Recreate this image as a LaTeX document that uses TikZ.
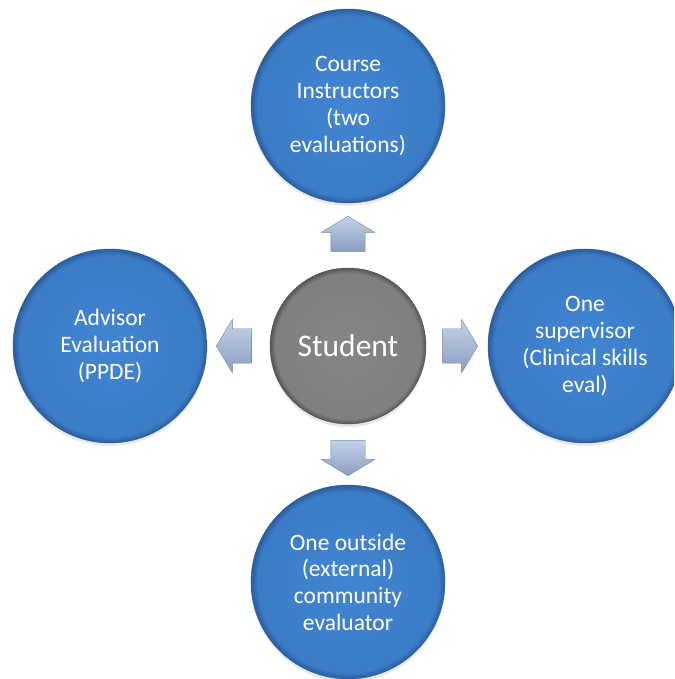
\documentclass[tikz,border=0pt]{standalone}
\usepackage{fontspec}
\setmainfont{Carlito}
\usetikzlibrary{shapes.arrows,calc,shadows}
\definecolor{evalblue}{RGB}{60,125,200}
\definecolor{evallight}{RGB}{66,133,210}
\definecolor{evalrim}{RGB}{42,92,155}
\definecolor{stgray}{RGB}{128,128,128}
\definecolor{stlight}{RGB}{134,134,134}
\definecolor{strim}{RGB}{85,85,85}
\definecolor{arrlight}{RGB}{196,210,232}
\definecolor{arrdark}{RGB}{138,158,192}
\definecolor{arrline}{RGB}{112,130,162}
\pgfdeclareradialshading{evalball}{\pgfpoint{0bp}{0bp}}{color(0bp)=(evallight); color(20bp)=(evalblue); color(23.3bp)=(evalblue); color(25bp)=(evalrim); color(50bp)=(evalrim)}
\pgfdeclareradialshading{stball}{\pgfpoint{0bp}{0bp}}{color(0bp)=(stlight); color(20bp)=(stgray); color(23.3bp)=(stgray); color(25bp)=(strim); color(50bp)=(strim)}
\begin{document}
\begin{tikzpicture}[x=1pt,y=1pt]
	\tikzstyle{ev} = [circle, minimum size=194pt, inner sep=0, shading=evalball, draw=evalrim, thin, text=white, align=center, font=\fontsize{23.5}{26.7}\selectfont, drop shadow={opacity=0.18,shadow xshift=0pt,shadow yshift=-3pt}]
	\tikzstyle{blk} = [single arrow, minimum height=35pt, inner xsep=0, inner ysep=17pt, single arrow head extend=9.5pt, single arrow tip angle=118, top color=arrlight, bottom color=arrdark, draw=arrline, thin]
	\clip (-348,-333) rectangle (326,346);
	\fill [white] (-348,-333) rectangle (326,346);
	
	\node [circle, minimum size=156pt, inner sep=0, shading=stball, draw=strim, thin, text=white, font=\fontsize{31.5}{36}\selectfont, drop shadow={opacity=0.2,shadow xshift=0pt,shadow yshift=-3pt}] (st) at (0,0) {Student};
	\node [ev] (ci) at (0,240) {Course\\Instructors\\(two\\evaluations)};
	\node [ev] (sv) at (237,0) {One\\supervisor\\(Clinical skills\\eval)};
	\node [ev] (ce) at (0,-236) {One outside\\(external)\\community\\evaluator};
	\node [ev] (ad) at (-238,0) {Advisor\\Evaluation\\(PPDE)};
	
	\node [blk, rotate=90] (au) at ($(st)!107pt!(ci)$) {};
	\node [blk] (ar) at ($(st)!107pt!(sv)$) {};
	\node [blk, rotate=-90] (ab) at ($(st)!107pt!(ce)$) {};
	\node [blk, rotate=180] (al) at ($(st)!109pt!(ad)$) {};
	
\end{tikzpicture}
\end{document}
